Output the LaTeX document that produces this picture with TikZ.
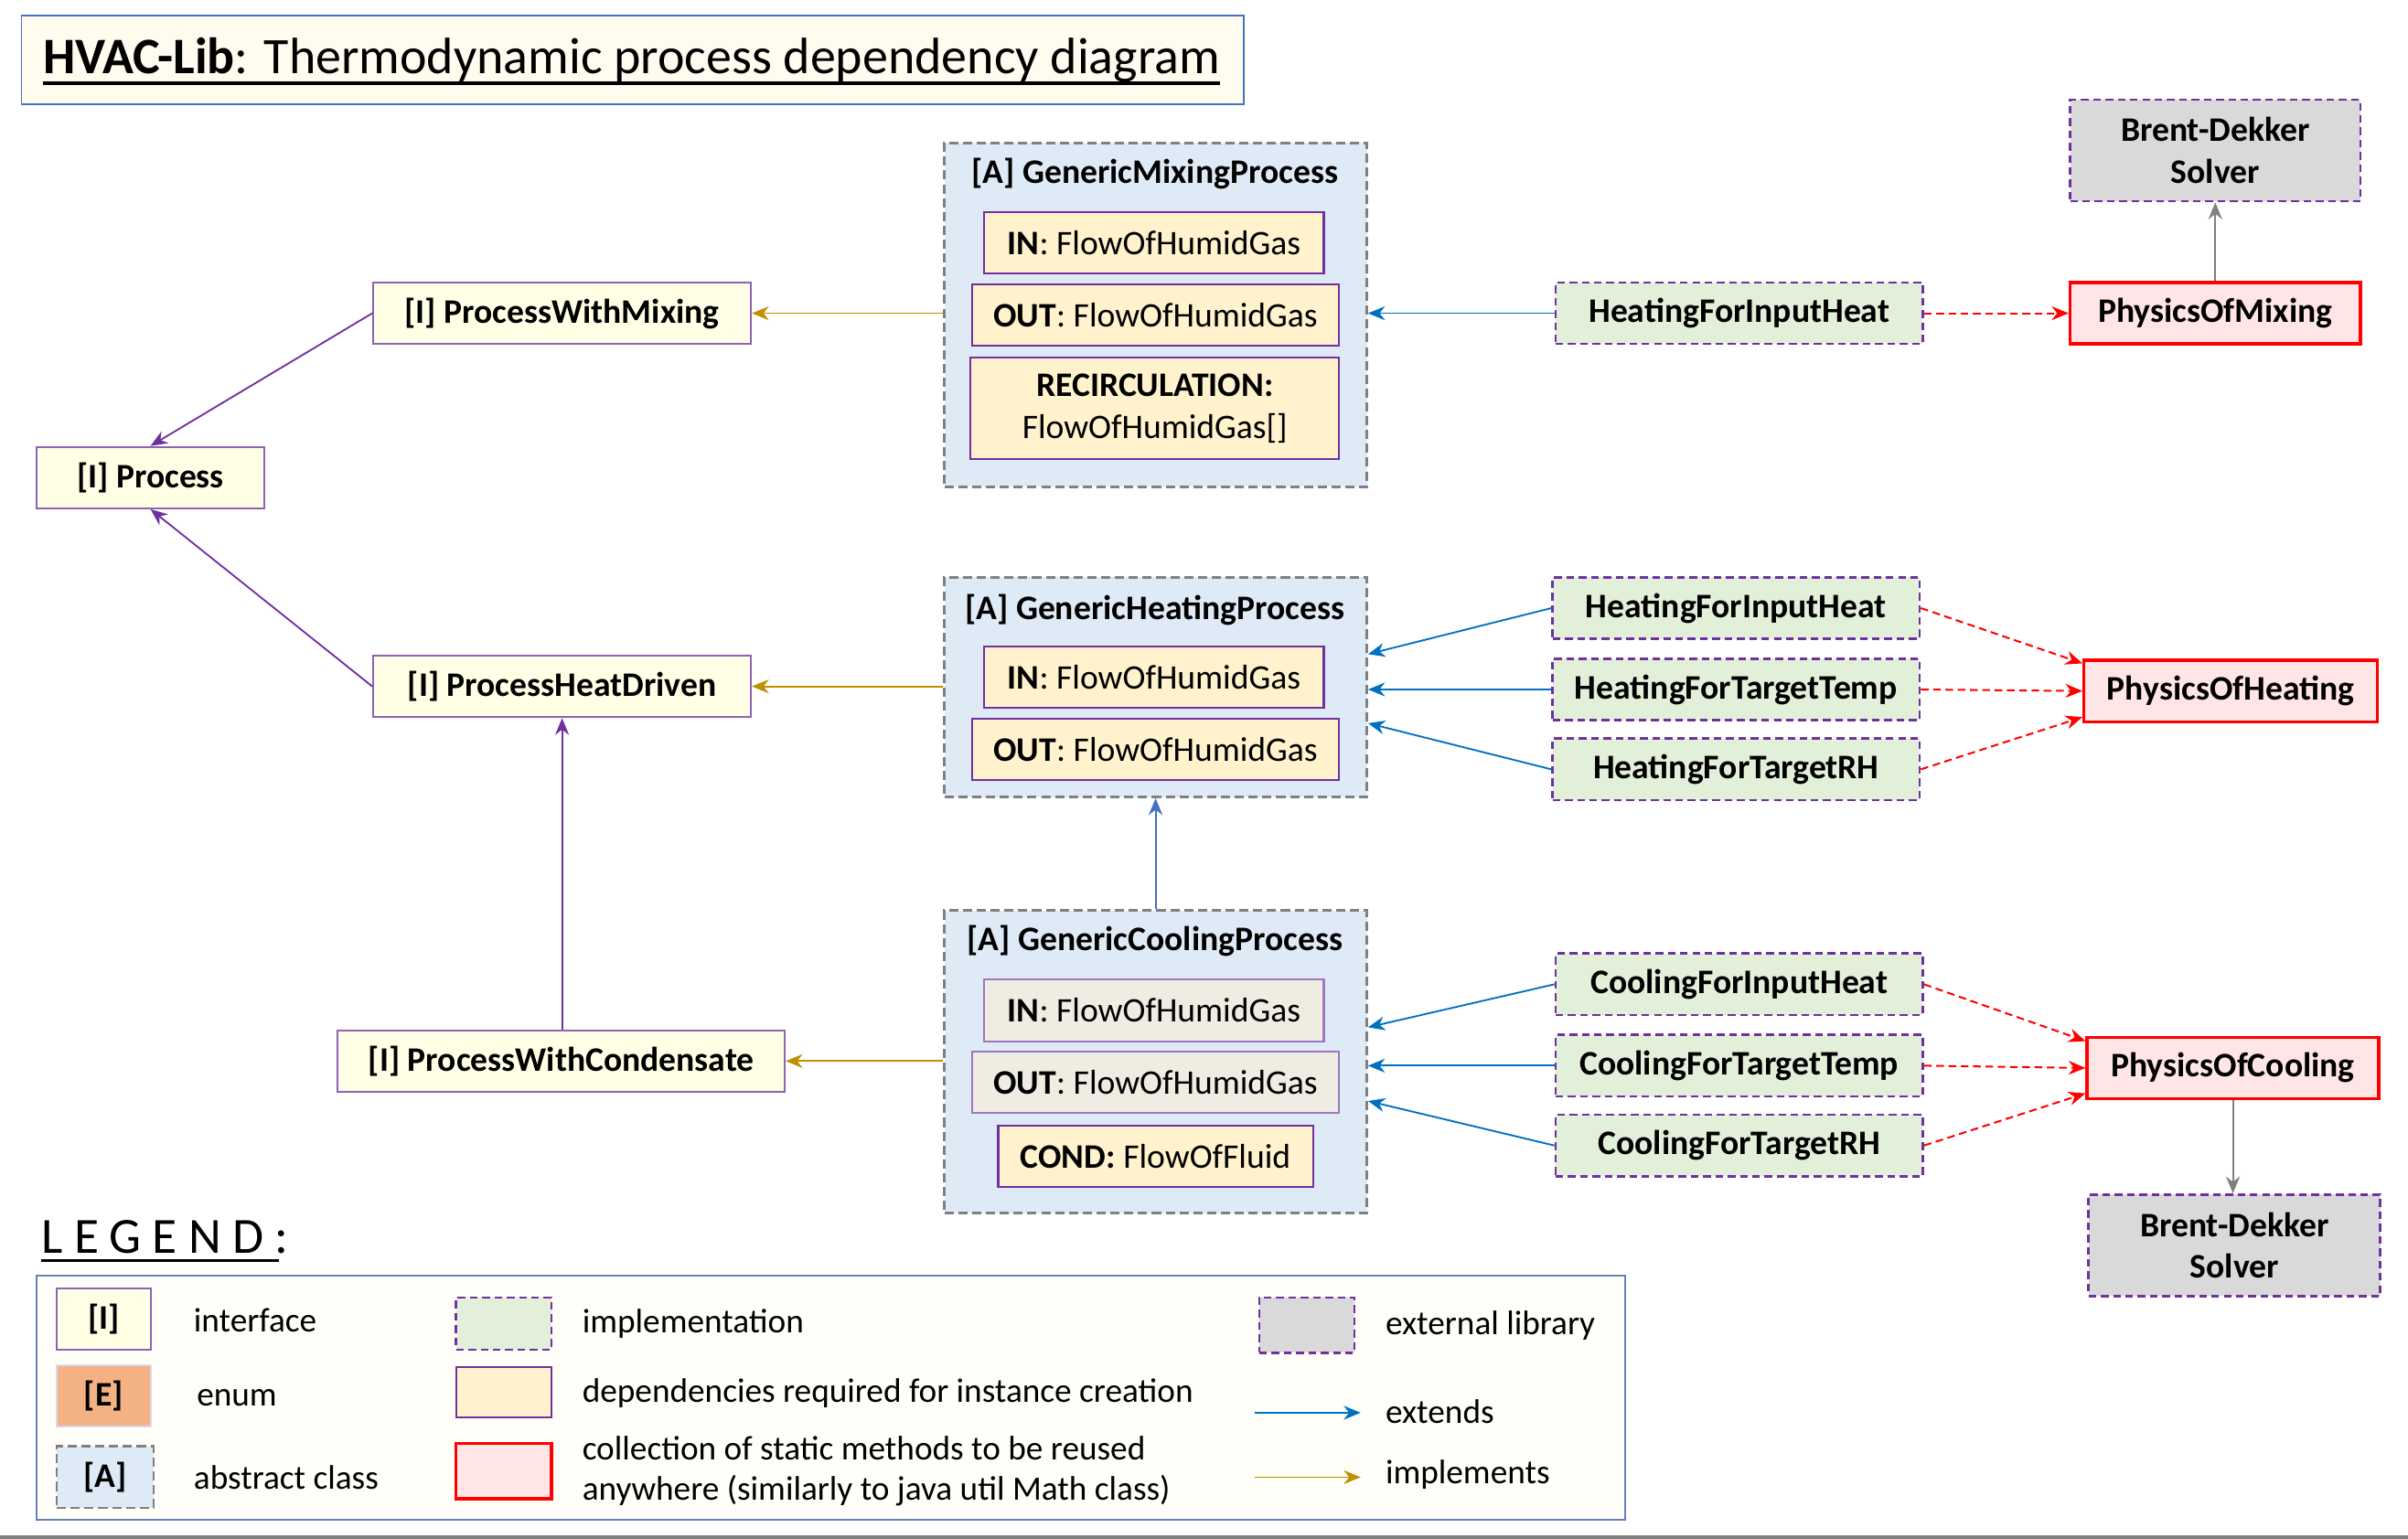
\documentclass[tikz,border=0pt]{standalone}
\usepackage{fontspec}
\setmainfont{Carlito}
\usetikzlibrary{arrows.meta,calc}
\definecolor{ifacefill}{HTML}{FFFFE5}
\definecolor{ifacedraw}{HTML}{8E62B5}
\definecolor{absfill}{HTML}{DEEBF7}
\definecolor{absdraw}{HTML}{808080}
\definecolor{depfill}{HTML}{FFF2CC}
\definecolor{depdraw}{HTML}{7030A0}
\definecolor{grayfill}{HTML}{EFEDE1}
\definecolor{graydraw}{HTML}{9E77C2}
\definecolor{implfill}{HTML}{E2F0D9}
\definecolor{impldraw}{HTML}{7030A0}
\definecolor{physfill}{HTML}{FFE5E6}
\definecolor{physdraw}{HTML}{FF0000}
\definecolor{extfill}{HTML}{D9D9D9}
\definecolor{extblue}{HTML}{0070C0}
\definecolor{absblue}{HTML}{4472C4}
\definecolor{implgold}{HTML}{BF9000}
\definecolor{arrpurple}{HTML}{7030A0}
\definecolor{titlefill}{HTML}{FFFBEE}
\definecolor{titledraw}{HTML}{4472C4}
\definecolor{legfill}{HTML}{FFFEF9}
\definecolor{legdraw}{HTML}{6382B8}
\definecolor{enumfill}{HTML}{F4B183}
\definecolor{enumdraw}{HTML}{D6DCE5}
\newcommand\nodefont{\fontsize{22.4}{26}\selectfont}
\newcommand\legfont{\fontsize{22.2}{26}\selectfont}
\begin{document}
\begin{tikzpicture}[x=1pt,y=-1pt,
  tip/.style={-{Stealth[length=11pt,width=9pt,inset=3.5pt]}},
  iface/.style={draw=ifacedraw,fill=ifacefill,line width=1.2pt,inner sep=0pt,minimum height=40pt,font=\nodefont\bfseries},
  absbox/.style={draw=absdraw,fill=absfill,line width=1.6pt,dash pattern=on 6pt off 3pt,inner sep=0pt},
  abstitle/.style={inner sep=0pt,font=\nodefont\bfseries},
  dep/.style={draw=depdraw,fill=depfill,line width=1.2pt,inner sep=0pt,minimum height=40pt,font=\nodefont},
  depgray/.style={draw=graydraw,fill=grayfill,line width=1.2pt,inner sep=0pt,minimum height=40pt,font=\nodefont},
  impl/.style={draw=impldraw,fill=implfill,line width=1.6pt,dash pattern=on 5pt off 3pt,inner sep=0pt,minimum width=239pt,minimum height=40pt,font=\nodefont\bfseries},
  phys/.style={draw=physdraw,fill=physfill,line width=2pt,inner sep=0pt,minimum height=40pt,font=\nodefont\bfseries},
  ext/.style={draw=impldraw,fill=extfill,line width=1.6pt,dash pattern=on 5pt off 3pt,inner sep=0pt,align=center,font=\nodefont\bfseries},
  purplearr/.style={tip,draw=arrpurple,line width=1.1pt,color=arrpurple},
  goldarr/.style={tip,draw=implgold,line width=1.1pt,color=implgold},
  bluearr/.style={tip,draw=extblue,line width=1.1pt,color=extblue},
  absarr/.style={tip,draw=absblue,line width=1.1pt,color=absblue},
  redarr/.style={tip,draw=physdraw,line width=1.2pt,color=physdraw,dash pattern=on 5pt off 3pt},
  grayarr/.style={tip,draw=absdraw,line width=1.1pt,color=absdraw},
  legtext/.style={inner sep=0pt,anchor=west,font=\legfont,align=left}
]
\useasboundingbox (0,0) rectangle (1568,1002);
% title
\node[draw=titledraw,fill=titlefill,line width=1pt,minimum width=796pt,minimum height=58pt,inner sep=0pt] (tbox) at (412,39) {};
\node[inner sep=0pt,anchor=base west,font=\fontsize{33.3}{38}\selectfont] (ttl) at (28,48) {\textbf{HVAC-Lib}: Thermodynamic process dependency diagram};
\draw[line width=2.2pt] ([yshift=-6pt]ttl.base west) -- ([yshift=-6pt]ttl.base east);

% interfaces
\node[iface,minimum width=148pt] (proc) at (98,311) {[I] Process};
\node[iface,minimum width=246pt] (pmix) at (366,204) {[I] ProcessWithMixing};
\node[iface,minimum width=246pt] (pheat) at (366,447) {[I] ProcessHeatDriven};
\node[iface,minimum width=291pt] (pcond) at (365.5,691) {[I] ProcessWithCondensate};

% abstract classes
\node[absbox,minimum width=275pt,minimum height=224pt] (gmix) at (752.5,205) {};
\node[abstitle] (gmixT) at (752,113) {[A] GenericMixingProcess};
\node[dep,minimum width=221pt] (mixin) at (751.5,158) {\textbf{IN}: FlowOfHumidGas};
\node[dep,minimum width=239pt] (mixout) at (752.5,205) {\textbf{OUT}: FlowOfHumidGas};
\node[dep,minimum width=240pt,minimum height=66pt,align=center] (mixrec) at (752,266) {\textbf{RECIRCULATION:}\\[1pt]FlowOfHumidGas[]};

\node[absbox,minimum width=275pt,minimum height=143pt] (gheat) at (752.5,447.5) {};
\node[abstitle] (gheatT) at (752,397) {[A] GenericHeatingProcess};
\node[dep,minimum width=221pt] (heatin) at (751.5,441) {\textbf{IN}: FlowOfHumidGas};
\node[dep,minimum width=239pt] (heatout) at (752.5,488) {\textbf{OUT}: FlowOfHumidGas};

\node[absbox,minimum width=275pt,minimum height=197pt] (gcool) at (752.5,691.5) {};
\node[abstitle] (gcoolT) at (752,613) {[A] GenericCoolingProcess};
\node[depgray,minimum width=221pt] (coolin) at (751.5,658) {\textbf{IN}: FlowOfHumidGas};
\node[depgray,minimum width=239pt] (coolout) at (752.5,705) {\textbf{OUT}: FlowOfHumidGas};
\node[dep,minimum width=205pt] (coolcond) at (752.5,753) {\textbf{COND:} FlowOfFluid};

% implementations
\node[impl] (imix) at (1132.5,204) {HeatingForInputHeat};
\node[impl] (ih1) at (1130.5,396) {HeatingForInputHeat};
\node[impl] (ih2) at (1130.5,449) {HeatingForTargetTemp};
\node[impl] (ih3) at (1130.5,501) {HeatingForTargetRH};
\node[impl] (ic1) at (1132.5,641) {CoolingForInputHeat};
\node[impl] (ic2) at (1132.5,694) {CoolingForTargetTemp};
\node[impl] (ic3) at (1132.5,746) {CoolingForTargetRH};

% physics
\node[phys,minimum width=189pt] (phmix) at (1442.5,204) {PhysicsOfMixing};
\node[phys,minimum width=191pt] (phheat) at (1452.5,450) {PhysicsOfHeating};
\node[phys,minimum width=190pt] (phcool) at (1454,695.5) {PhysicsOfCooling};

% external
\node[ext,minimum width=189pt,minimum height=66pt] (bd1) at (1442.5,98) {Brent-Dekker\\[1pt]Solver};
\node[ext,minimum width=190pt,minimum height=66pt] (bd2) at (1455,811) {Brent-Dekker\\[1pt]Solver};

% interface arrows
\draw[purplearr] (pmix.west) -- (proc.north);
\draw[purplearr] (pheat.west) -- (proc.south);
\draw[purplearr] (pcond.north -| pheat.south) -- (pheat.south);

% implements arrows
\draw[goldarr] (pmix.east -| gmix.west) -- (pmix.east);
\draw[goldarr] (pheat.east -| gheat.west) -- (pheat.east);
\draw[goldarr] (pcond.east -| gcool.west) -- (pcond.east);

% abstract extends
\draw[absarr] (gcool.north) -- (gheat.south);

% extends arrows
\draw[bluearr] (imix.west) -- (imix.west -| gmix.east);
\draw[bluearr] (ih1.west) -- ([yshift=21.5pt]gheat.east);
\draw[bluearr] (ih2.west) -- (ih2.west -| gheat.east);
\draw[bluearr] (ih3.west) -- ([yshift=-23.5pt]gheat.east);
\draw[bluearr] (ic1.west) -- ([yshift=22.5pt]gcool.east);
\draw[bluearr] (ic2.west) -- (ic2.west -| gcool.east);
\draw[bluearr] (ic3.west) -- ([yshift=-25.5pt]gcool.east);

% physics dependencies
\draw[redarr] (imix.east) -- (phmix.west);
\draw[redarr] (ih1.east) -- ([yshift=18pt]phheat.west);
\draw[redarr] (ih2.east) -- (phheat.west);
\draw[redarr] (ih3.east) -- ([yshift=-17pt]phheat.west);
\draw[redarr] (ic1.east) -- ([yshift=17.5pt]phcool.west);
\draw[redarr] (ic2.east) -- (phcool.west);
\draw[redarr] (ic3.east) -- ([yshift=-16.5pt]phcool.west);

% external library use
\draw[grayarr] (phmix.north) -- (bd1.south);
\draw[grayarr] (phcool.south) -- (phcool.south |- bd2.north);

% legend
\node[inner sep=0pt,anchor=base west,font=\fontsize{33}{38}\selectfont\addfontfeature{LetterSpace=22}] (legT) at (27,816) {LEGEND:};
\draw[line width=2pt] ([yshift=-5pt]legT.base west) -- ([yshift=-5pt,xshift=-6pt]legT.base east);
\node[draw=legdraw,fill=legfill,line width=1.2pt,minimum width=1034pt,minimum height=159pt,inner sep=0pt] (legbox) at (541,910.5) {};

\node[iface,minimum width=61pt] (lI) at (67.5,859) {[I]};
\node[draw=enumdraw,fill=enumfill,line width=1.2pt,inner sep=0pt,minimum width=61pt,minimum height=40pt,font=\nodefont\bfseries] (lE) at (67.5,909) {[E]};
\node[absbox,minimum width=63pt,minimum height=40pt,font=\nodefont\bfseries] (lA) at (68.5,962) {[A]};
\node[legtext] (tI) at (126,860) {interface};
\node[legtext] (tE) at (128,910) {enum};
\node[legtext] (tA) at (126,962) {abstract class};

\node[impl,minimum width=62pt,minimum height=34pt] (limpl) at (328,862) {};
\node[dep,minimum width=62pt,minimum height=33pt] (ldep) at (328,906.5) {};
\node[phys,minimum width=62pt,minimum height=36pt] (lphys) at (328,958) {};
\node[legtext] (timpl) at (379,862) {implementation};
\node[legtext] (tdep) at (379,907) {dependencies required for instance creation};
\node[legtext] (tphys) at (379,958) {collection of static methods to be reused\\anywhere (similarly to java util Math class)};

\node[ext,minimum width=62pt,minimum height=36pt] (lext) at (851,863) {};
\node[legtext] (text) at (902,863) {external library};
\coordinate (exA) at (817,920);
\coordinate (exB) at (886,920);
\draw[bluearr] (exA) -- (exB);
\node[legtext] (texd) at (902,919) {extends};
\coordinate (imA) at (817,962);
\coordinate (imB) at (886,962);
\draw[goldarr] (imA) -- (imB);
\node[legtext] (timp) at (902,960) {implements};

% bottom rule
\coordinate (brA) at (0,1001);
\coordinate (brB) at (1568,1001);
\draw[draw=absdraw,line width=2pt] (brA) -- (brB);
\end{tikzpicture}
\end{document}
